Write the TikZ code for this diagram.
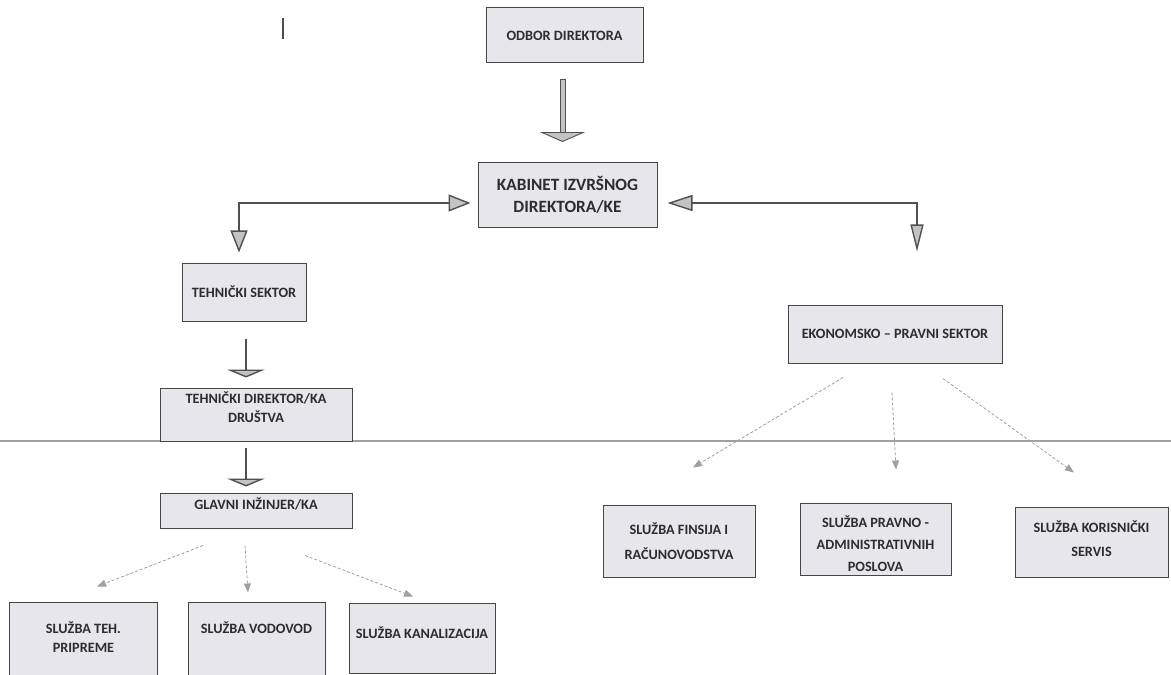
\documentclass[tikz,border=0pt]{standalone}
\usepackage{fontspec}
\setmainfont{Carlito}
\usetikzlibrary{arrows.meta,calc}
\definecolor{boxfill}{RGB}{230,230,235}
\definecolor{boxline}{RGB}{70,70,70}
\definecolor{txtcol}{RGB}{45,45,45}
\definecolor{conncol}{RGB}{80,80,80}
\definecolor{tipfill}{RGB}{195,195,198}
\definecolor{dashc}{RGB}{160,160,160}
\definecolor{rulec}{RGB}{160,160,160}
\begin{document}
\begin{tikzpicture}[x=1bp,y=-1bp,
  box/.style={draw=boxline, fill=boxfill, line width=1bp, inner sep=0pt,
    font=\bfseries\fontsize{14.3}{19}\selectfont, text=txtcol, align=center},
  txt/.style={font=\bfseries\fontsize{14.3}{19}\selectfont, text=txtcol, align=center, inner sep=0pt},
  conn/.style={draw=conncol, line width=1.4bp},
  flathead/.style={-{Triangle[length=8bp,width=38bp,fill=tipfill]}},
  blk/.style={draw=conncol, line width=0.9bp, fill=tipfill},
  dasharrow/.style={draw=dashc, line width=0.8bp, dash pattern=on 3bp off 2bp,
    -{Triangle[length=9bp,width=7bp,fill=dashc]}},
]
\useasboundingbox (0,0) rectangle (1171,675);
\fill[white] (0,0) rectangle (1171,675);

% scan rule line and mark
\draw[rulec, line width=2.5bp] (0,441) -- (1171,441);
\draw[black!70, line width=2bp] (283,18) -- (283,39);

% boxes
\node[box, minimum width=157bp, minimum height=55bp] (odbor) at (564.5,35.5) {ODBOR DIREKTORA};
\node[box, minimum width=179bp, minimum height=64bp, font=\bfseries\fontsize{17.3}{21.5}\selectfont] (kabinet) at (567.5,195) {KABINET IZVRŠNOG\\DIREKTORA/KE};
\node[box, minimum width=124bp, minimum height=58bp] (tech) at (244,292) {TEHNIČKI SEKTOR};
\node[box, minimum width=214bp, minimum height=58bp] (ekon) at (895,334) {EKONOMSKO – PRAVNI SEKTOR};
\node[box, minimum width=192bp, minimum height=53bp] (tdir) at (256,414.5) {};
\node[txt] (tdirt) at (256,407.5) {TEHNIČKI DIREKTOR/KA\\DRUŠTVA};
\node[box, minimum width=192bp, minimum height=35bp] (glavni) at (256,510.5) {};
\node[txt] (glavnit) at (256,504) {GLAVNI INŽINJER/KA};
\node[box, minimum width=147bp, minimum height=88bp] (teh) at (83.5,646) {};
\node[txt] (teht) at (83.5,637.5) {SLUŽBA TEH.\\PRIPREME};
\node[box, minimum width=137bp, minimum height=88bp] (vod) at (256.5,646) {};
\node[txt] (vodt) at (256.5,628) {SLUŽBA VODOVOD};
\node[box, minimum width=146bp, minimum height=70bp] (kan) at (422,638) {};
\node[txt] (kant) at (422,633) {SLUŽBA KANALIZACIJA};
\node[box, minimum width=152bp, minimum height=72bp] (fin) at (679,541) {SLUŽBA FINSIJA I\\[6bp]RAČUNOVODSTVA};
\node[box, minimum width=151bp, minimum height=72bp] (prav) at (875.5,539) {};
\node[txt] (pravt) at (875.5,544) {SLUŽBA PRAVNO -\\[3bp]ADMINISTRATIVNIH\\[3bp]POSLOVA};
\node[box, minimum width=153bp, minimum height=70bp] (kor) at (1091.5,542) {};
\node[txt] (kort) at (1091.5,539) {SLUŽBA KORISNIČKI\\[5bp]SERVIS};

% block arrow odbor -> kabinet
\path (odbor.south) ++(-2,16) coordinate (a1s);
\path (kabinet.north) ++(-5,-21) coordinate (a1e);
\draw[blk] ($(a1s)+(-2.5,0)$) rectangle ($(a1e)+(2.5,-9)$);
\draw[blk, line join=miter] ($(a1e)+(-20.5,-9)$) -- ($(a1e)+(20.5,-9)$) -- (a1e) -- cycle;

% flat-head arrows
\draw[conn, flathead] ($(tech.south)+(2,17)$) -- ($(tdir.north)+(-10,-10)$);
\draw[conn, flathead] ($(tdir.south)+(-10,6)$) -- ($(glavni.north)+(-10,-6)$);

% elbow connectors
\draw[conn, {Triangle[length=22bp,width=17bp,fill=tipfill]}-{Triangle[length=22bp,width=17bp,fill=tipfill]}]
  ($(kabinet.west)+(-7,8)$) -| ($(tech.north)+(-5,-10)$);
\draw[conn, {Triangle[length=25bp,width=16bp,fill=tipfill]}-{Triangle[length=27bp,width=13bp,fill=tipfill]}]
  ($(kabinet.east)+(10,8)$) -| ($(ekon.north)+(22,-53)$);

% dashed arrows
\draw[dasharrow] ($(glavni.south)+(-53,17)$) -- ($(teh.north)+(13.5,-15)$);
\draw[dasharrow] ($(glavni.south)+(-11,17)$) -- ($(vod.north)+(-8.5,-9)$);
\draw[dasharrow] ($(glavni.south)+(49,27)$) -- ($(kan.north)+(-9,-6)$);
\draw[dasharrow] ($(ekon.south)+(-52,14)$) -- ($(fin.north)+(14,-37)$);
\draw[dasharrow] ($(ekon.south)+(-3,29)$) -- ($(prav.north)+(20.5,-33)$);
\draw[dasharrow] ($(ekon.south)+(48,15)$) -- ($(kor.north)+(-17.5,-34)$);
\end{tikzpicture}
\end{document}
